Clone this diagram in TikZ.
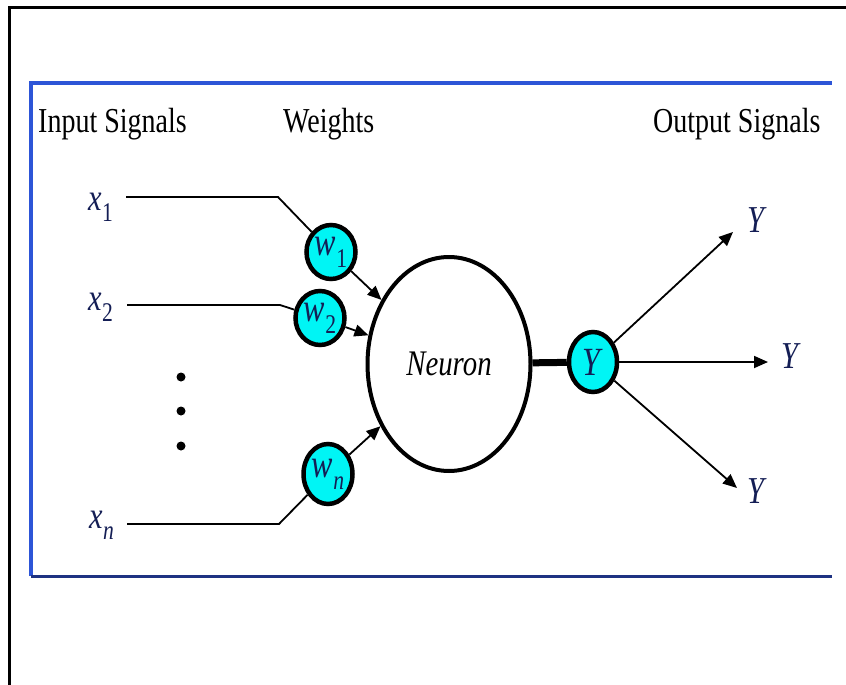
\documentclass[tikz,border=0pt]{standalone}
\usepackage{fontspec}
\setmainfont{Liberation Serif}
\usepackage{graphicx}
\usetikzlibrary{calc, positioning}
\usetikzlibrary{arrows.meta}
\usetikzlibrary{shapes.geometric}
\definecolor{frameblue}{RGB}{45,85,215}
\definecolor{framenavy}{RGB}{30,50,130}
\definecolor{labelnavy}{RGB}{20,30,85}
\definecolor{weightcyan}{RGB}{0,245,245}
\newcommand{\sq}[1]{\scalebox{0.8}[1]{#1}}
\newcommand{\vname}[2]{\sq{\textit{#1}\raisebox{-0.3em}{\fontsize{27}{27}\selectfont #2}}}
\tikzset{
    heading/.style = {
        inner sep=0pt, font=\fontsize{35}{40}\selectfont
    },
    varlabel/.style = {
        inner sep=0pt, text=labelnavy, font=\fontsize{38}{42}\selectfont
    },
    weight/.style = {
        draw, ellipse, fill=weightcyan, line width=4.5pt, minimum width=49pt, minimum height=54pt,
        inner sep=0pt, text=labelnavy, font=\fontsize{40}{44}\selectfont
    },
    wire/.style = {line width=1.8pt},
}

\begin{document}
\begin{tikzpicture}[x=1pt, y=-1pt]
        \useasboundingbox (0,0) rectangle (846,685);

        % Frames 
        \draw[line width=3pt] (9,690) -- (9,8) -- (850,8);
        \draw[frameblue, line width=3.5pt] (31,576) -- (31,83) -- (832,83);
        \draw[framenavy, line width=3pt] (31,576) -- (832,576);

        % Headings 
        \node[heading, anchor=base west] (inhead) at (38,132) {\sq{Input Signals}};
        \node[heading, anchor=base west] (whead) at (283,132) {\sq{Weights}};
        \node[heading, anchor=base west] (outhead) at (653,132) {\sq{Output Signals}};

        % Inputs 
        \node[varlabel, anchor=base east] (x1) at (113,210) {\vname{x}{1}};
        \node[varlabel, anchor=base east] (x2) at (113,310) {\vname{x}{2}};
        \node[varlabel, anchor=base east] (xn) at (114,528) {\vname{x}{\textit{n}}};
        \foreach \y in {377,411,446}{
            \fill (181,\y) circle (4.5pt);
        }

        % Weights and neuron 
        \node[weight] (w1) at (331,252) {\vname{w}{1}};
        \node[weight] (w2) at (320,318) {\vname{w}{2}};
        \node[weight, minimum height=60pt] (wn) at (328,474) {\vname{w}{\textit{n}}};
        \node[draw, ellipse, line width=4pt, minimum width=163pt, minimum height=214pt,
              font=\fontsize{36}{40}\selectfont] (neuron) at (449,364) {\sq{\textit{Neuron}}};
        \node[weight, minimum width=48pt, minimum height=60pt] (yout) at (593,362) {\sq{\textit{Y}}};

        % Outputs 
        \coordinate (t1) at (733,232);
        \coordinate (t2) at (768,362);
        \coordinate (t3) at (737,488);
        \node[varlabel, anchor=base west] (y1) at (747,232) {\sq{\textit{Y}}};
        \node[varlabel, anchor=base west] (y2) at (781,368) {\sq{\textit{Y}}};
        \node[varlabel, anchor=base west] (y3) at (747,503) {\sq{\textit{Y}}};

        % Draw connections 
        \coordinate (x1s) at (126,197);
        \coordinate (x1b) at (278,197);
        \coordinate (x2s) at (127,305);
        \coordinate (x2b) at (280,305);
        \coordinate (xns) at (127,524);
        \coordinate (xnb) at (279,524);
        \draw[wire] (x1s) -- (x1b) -- (w1);
        \draw[wire] (x2s) -- (x2b) -- (w2);
        \draw[wire] (xns) -- (xnb) -- (wn);
        \begin{scope}[wire, >={Triangle[width=12pt,length=14pt]}]
            \draw[->] (w1) -- (neuron);
            \draw[->] (w2) -- (neuron);
            \draw[->] (wn) -- (neuron);
            \draw[->] (yout) -- (t1);
            \draw[->] (yout) -- (t2);
            \draw[->] (yout) -- (t3);
        \end{scope}
        \draw[line width=7pt] (neuron) -- (yout);
\end{tikzpicture}
\end{document}
